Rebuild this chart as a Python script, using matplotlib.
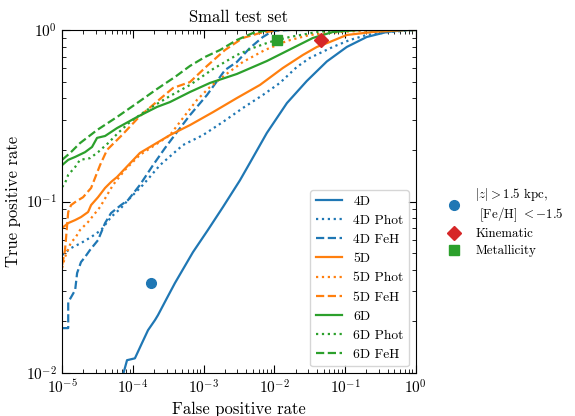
"""ROC curves for the small test set"""

from matplotlib import pyplot as plt

plt.rcParams['font.family'] = 'serif'
plt.rcParams['font.serif'] = ['cmr10']
plt.rcParams['mathtext.fontset'] = 'cm'
plt.rcParams['axes.formatter.use_mathtext'] = True
plt.rcParams['axes.unicode_minus'] = False

# 4D
fpr4 = [7.28e-5, 8.28e-5, 1.07e-4, 1.35e-4, 1.64e-4, 2.06e-4, 2.27e-4, 3.04e-4, 3.94e-4,
        7.08e-4, 1.15e-3, 1.88e-3, 3.27e-3, 4.52e-3, 7.85e-3, 1.51e-2, 2.88e-2, 5.53e-2,
        0.106, 0.203, 0.389, 0.746, 1.0]
tpr4 = [0.0098, 0.0119, 0.0122, 0.0150, 0.0178, 0.0204, 0.0218, 0.0274, 0.0335,
        0.0507, 0.0682, 0.0929, 0.133, 0.168, 0.251, 0.375, 0.504, 0.655,
        0.796, 0.910, 0.973, 1.0, 1.0]
fpr4p = [1.0e-5, 1.34e-5, 1.85e-5, 2.57e-5, 3.56e-5, 4.92e-5, 6.81e-5, 8.55e-5, 1.39e-4,
         2.42e-4, 5.12e-4, 9.82e-4, 1.88e-3, 3.60e-3, 6.90e-3, 1.20e-2, 2.08e-2, 3.18e-2,
         6.73e-2, 0.117, 0.203, 0.429, 1.0]
tpr4p = [0.0488, 0.0536, 0.0573, 0.0621, 0.0682, 0.0812, 0.0917, 0.102, 0.125,
         0.163, 0.2135, 0.244, 0.291, 0.351, 0.418, 0.491, 0.608, 0.687,
         0.796, 0.874, 0.935, 0.973, 1.0]
fpr4f = [1.0e-5, 1.22e-5, 1.22e-5, 1.53e-5, 1.63e-5, 1.85e-5, 2.11e-5, 2.48e-5, 3.22e-5,
         4.05e-5, 4.92e-5, 6.81e-5, 8.55e-5, 1.26e-4, 1.93e-4, 2.85e-4, 4.21e-4, 6.43e-4,
         1.12e-3, 2.01e-3, 2.96e-3, 4.52e-3, 6.90e-3, 9.55e-3, 1.66e-2, 1.0]
tpr4f = [0.0183, 0.0183, 0.0259, 0.0305, 0.0383, 0.0444, 0.0475, 0.0522, 0.0596,
         0.0749, 0.0857, 0.0954, 0.102, 0.125, 0.163, 0.205, 0.254, 0.319,
         0.418, 0.584, 0.651, 0.785, 0.910, 0.987, 1.0, 1.0]

# 5D
fpr5 = [1.0e-5, 1.22e-5, 1.53e-5, 1.85e-5, 2.33e-5, 2.57e-5, 3.22e-5, 4.05e-5, 4.92e-5,
        5.98e-5, 1.26e-4, 3.35e-4, 6.43e-4, 1.36e-3, 2.96e-3, 6.27e-3, 1.32e-2, 2.54e-2,
        4.00e-2, 6.10e-2, 0.106, 0.247, 0.746, 1.0]
tpr5 = [0.0701, 0.0749, 0.0780, 0.0812, 0.0869, 0.0954, 0.106, 0.120, 0.130,
        0.139, 0.192, 0.244, 0.279, 0.332, 0.401, 0.478, 0.600, 0.715,
        0.796, 0.851, 0.935, 0.973, 1.0, 1.0]
fpr5p = [1.0e-5, 1.10e-5, 1.34e-5, 1.53e-5, 1.79e-5, 2.33e-5, 3.44e-5, 5.25e-5, 7.76e-5,
         1.26e-4, 2.06e-4, 3.35e-4, 5.12e-4, 8.07e-4, 1.23e-3, 2.01e-3, 3.60e-3, 7.36e-3,
         1.51e-2, 3.18e-2, 8.45e-2, 0.310, 1.0]
tpr5p = [0.0410, 0.0475, 0.0580, 0.0612, 0.0682, 0.0760, 0.0929, 0.125, 0.153,
         0.187, 0.2135, 0.244, 0.307, 0.391, 0.465, 0.546, 0.651, 0.764,
         0.863, 0.935, 0.973, 1.0, 1.0]
fpr5f = [1.0e-5, 1.10e-5, 1.22e-5, 1.34e-5, 1.53e-5, 1.98e-5, 2.57e-5, 3.44e-5, 4.32e-5,
         7.03e-5, 1.26e-4, 2.42e-4, 3.70e-4, 6.43e-4, 1.12e-3, 2.01e-3, 3.60e-3, 6.27e-3,
         1.20e-2, 1.0]
tpr5f = [0.0426, 0.0522, 0.0869, 0.0954, 0.0993, 0.106, 0.120, 0.163, 0.200,
         0.244, 0.315, 0.396, 0.459, 0.497, 0.617, 0.764, 0.898, 0.960,
         1.0, 1.0]

# 6D
fpr6 = [1.0e-5, 1.22e-5, 1.53e-5, 2.11e-5, 2.65e-5, 3.12e-5, 4.05e-5, 5.98e-5, 1.15e-4,
        2.20e-4, 3.35e-4, 6.43e-4, 1.23e-3, 2.96e-3, 7.85e-3, 1.83e-2, 3.51e-2, 6.73e-2,
        0.162, 1.0]
tpr6 = [0.163, 0.175, 0.182, 0.194, 0.208, 0.235, 0.241, 0.268, 0.311,
        0.356, 0.380, 0.435, 0.491, 0.554, 0.659, 0.785, 0.898, 0.973,
        1.0, 1.0]
fpr6p = [1.0e-5, 1.10e-5, 1.22e-5, 1.53e-5, 1.79e-5, 2.48e-5, 3.22e-5, 4.47e-5, 6.18e-5,
         9.13e-5, 1.59e-4, 3.35e-4, 6.43e-4, 1.36e-3, 2.96e-3, 4.99e-3, 8.67e-3, 1.66e-2,
         4.00e-2, 8.45e-2, 1.0]
tpr6p = [0.1215, 0.128, 0.143, 0.159, 0.175, 0.179, 0.194, 0.219, 0.251,
         0.291, 0.342, 0.412, 0.478, 0.592, 0.715, 0.785, 0.851, 0.910,
         0.973, 1.0, 1.0]
fpr6f = [1.0e-5, 1.30e-5, 1.79e-5, 3.12e-5, 5.98e-5, 1.15e-4, 2.20e-4, 3.94e-4, 6.43e-4,
         1.05e-3, 1.71e-3, 2.96e-3, 4.99e-3, 8.67e-3, 1.0]
tpr6f = [0.175, 0.192, 0.219, 0.261, 0.311, 0.375, 0.453, 0.532, 0.617,
         0.696, 0.764, 0.874, 0.960, 1.0, 1.0]

# single selections
cut_fpr, cut_tpr = 1.81e-4, 0.0335
kin_fpr, kin_tpr = 0.0455, 0.875
met_fpr, met_tpr = 0.0109, 0.875

fig = plt.figure(figsize=(5.75, 4.16), dpi=100)
ax = fig.add_axes([0.108, 0.103, 0.615, 0.825])

curves = [
    (fpr4, tpr4, 'C0', '-', '4D'), (fpr4p, tpr4p, 'C0', ':', '4D Phot'),
    (fpr4f, tpr4f, 'C0', '--', '4D FeH'),
    (fpr5, tpr5, 'C1', '-', '5D'), (fpr5p, tpr5p, 'C1', ':', '5D Phot'),
    (fpr5f, tpr5f, 'C1', '--', '5D FeH'),
    (fpr6, tpr6, 'C2', '-', '6D'), (fpr6p, tpr6p, 'C2', ':', '6D Phot'),
    (fpr6f, tpr6f, 'C2', '--', '6D FeH'),
]
lines = []
for x, y, c, ls, lab in curves:
    line, = ax.plot(x, y, color=c, ls=ls, lw=1.6, label=lab)
    lines.append(line)

pts = []
pts.append(ax.plot(cut_fpr, cut_tpr, 'o', color='C0', ms=7, ls='none',
                   label='$|z|>1.5$ kpc,\n [Fe/H] $<-1.5$')[0])
pts.append(ax.plot(kin_fpr, kin_tpr, 'D', color='C3', ms=7, ls='none', label='Kinematic')[0])
pts.append(ax.plot(met_fpr, met_tpr, 's', color='C2', ms=6.5, ls='none', label='Metallicity')[0])

ax.set_xscale('log')
ax.set_yscale('log')
ax.set_xlim(1e-5, 1)
ax.set_ylim(1e-2, 1)
ax.tick_params(which='both', direction='in', top=True, right=True, labelsize=11)
ax.tick_params(which='major', length=6)
ax.tick_params(which='minor', length=3)
ax.set_title('Small test set', fontsize=12)
ax.set_xlabel('False positive rate', fontsize=12)
ax.set_ylabel('True positive rate', fontsize=12)

leg1 = ax.legend(handles=lines, loc='lower right', fontsize=9.7)
ax.add_artist(leg1)
ax.legend(handles=pts, loc='upper left', bbox_to_anchor=(1.04, 0.58), frameon=False,
          fontsize=9.3, labelspacing=0.35, handletextpad=0.6)

plt.savefig('out.png', dpi=100)
